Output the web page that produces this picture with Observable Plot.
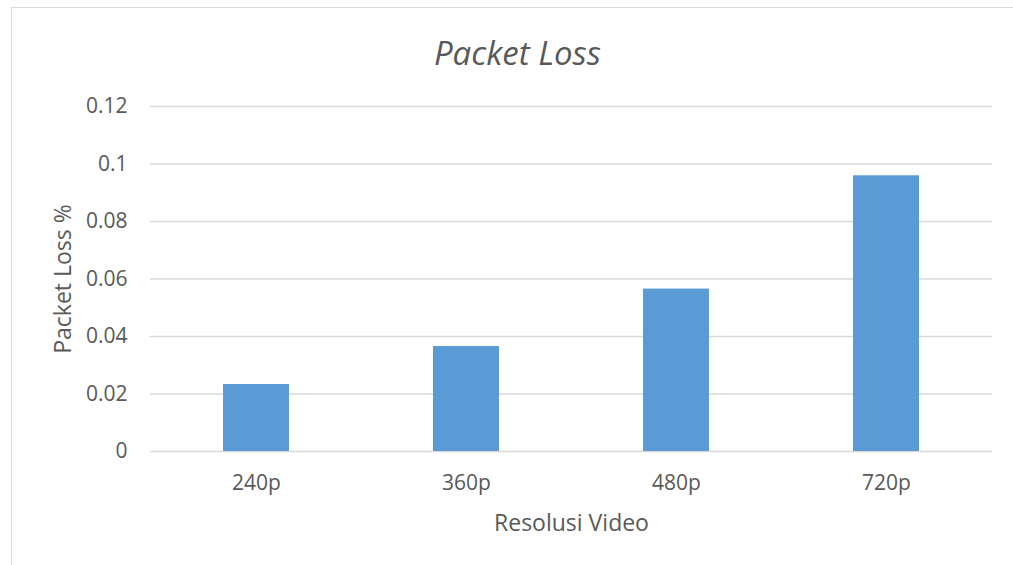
<!DOCTYPE html>
<html>
<head>
<meta charset="utf-8">
<script src="https://cdn.jsdelivr.net/npm/d3@7"></script>
<script src="https://cdn.jsdelivr.net/npm/@observablehq/plot@0.6"></script>
<style>
  html, body { margin: 0; padding: 0; background: #fff; overflow: hidden; }
  #wrap { position: relative; width: 1013px; height: 565px; overflow: hidden; font-family: "Open Sans", sans-serif; color: #595959; }
  #frame { position: absolute; left: 11px; top: 7px; width: 1002px; height: 558px; border-left: 1.5px solid #d9d9d9; border-top: 1.5px solid #d9d9d9; box-sizing: border-box; }
  #title { position: absolute; left: 11px; width: 1013px; top: 33px; height: 40px; line-height: 40px; text-align: center; font-size: 33px; font-style: italic; margin: 0; font-weight: normal; }
  #chart { position: absolute; left: 0; top: 80px; }
</style>
</head>
<body>
<div id="wrap">
  <div id="frame"></div>
  <h2 id="title">Packet Loss</h2>
  <div id="chart"></div>
</div>
<script>
const categories = ["240p", "360p", "480p", "720p"];
const values = [0.0233, 0.0365, 0.0565, 0.0959];
const yTicks = [0, 0.02, 0.04, 0.06, 0.08, 0.1, 0.12];
const yTickLabels = ["0", "0.02", "0.04", "0.06", "0.08", "0.1", "0.12"];
const xTitle = "Resolusi Video";
const yTitle = "Packet Loss %";

const data = categories.map((c, i) => ({ category: c, value: values[i] }));

const chart = Plot.plot({
  width: 1013,
  height: 485,
  marginTop: 26,
  marginBottom: 114,
  marginLeft: 150,
  marginRight: 21,
  style: { fontFamily: "Open Sans, sans-serif", fontSize: "21px", color: "#595959", background: "transparent", overflow: "visible" },
  x: { domain: categories, paddingInner: 0.686, paddingOuter: 0.343, tickSize: 0, tickPadding: 24, label: null },
  y: { domain: [0, 0.12], ticks: yTicks, tickSize: 0, tickPadding: 23, tickFormat: d => yTickLabels[yTicks.indexOf(d)], label: null },
  marks: [
    Plot.ruleY(yTicks, { stroke: "#d9d9d9", strokeWidth: 1.5 }),
    Plot.barY(data, { x: "category", y: "value", fill: "#5b9bd5" }),
    Plot.text([yTitle], { frameAnchor: "left", dx: -87, rotate: -90, textAnchor: "middle", lineAnchor: "middle", fontSize: 23, fill: "#595959" }),
    Plot.text([xTitle], { frameAnchor: "bottom", dy: 72, textAnchor: "middle", lineAnchor: "middle", fontSize: 23, fill: "#595959" })
  ]
});
document.getElementById("chart").appendChild(chart);
</script>
</body>
</html>
